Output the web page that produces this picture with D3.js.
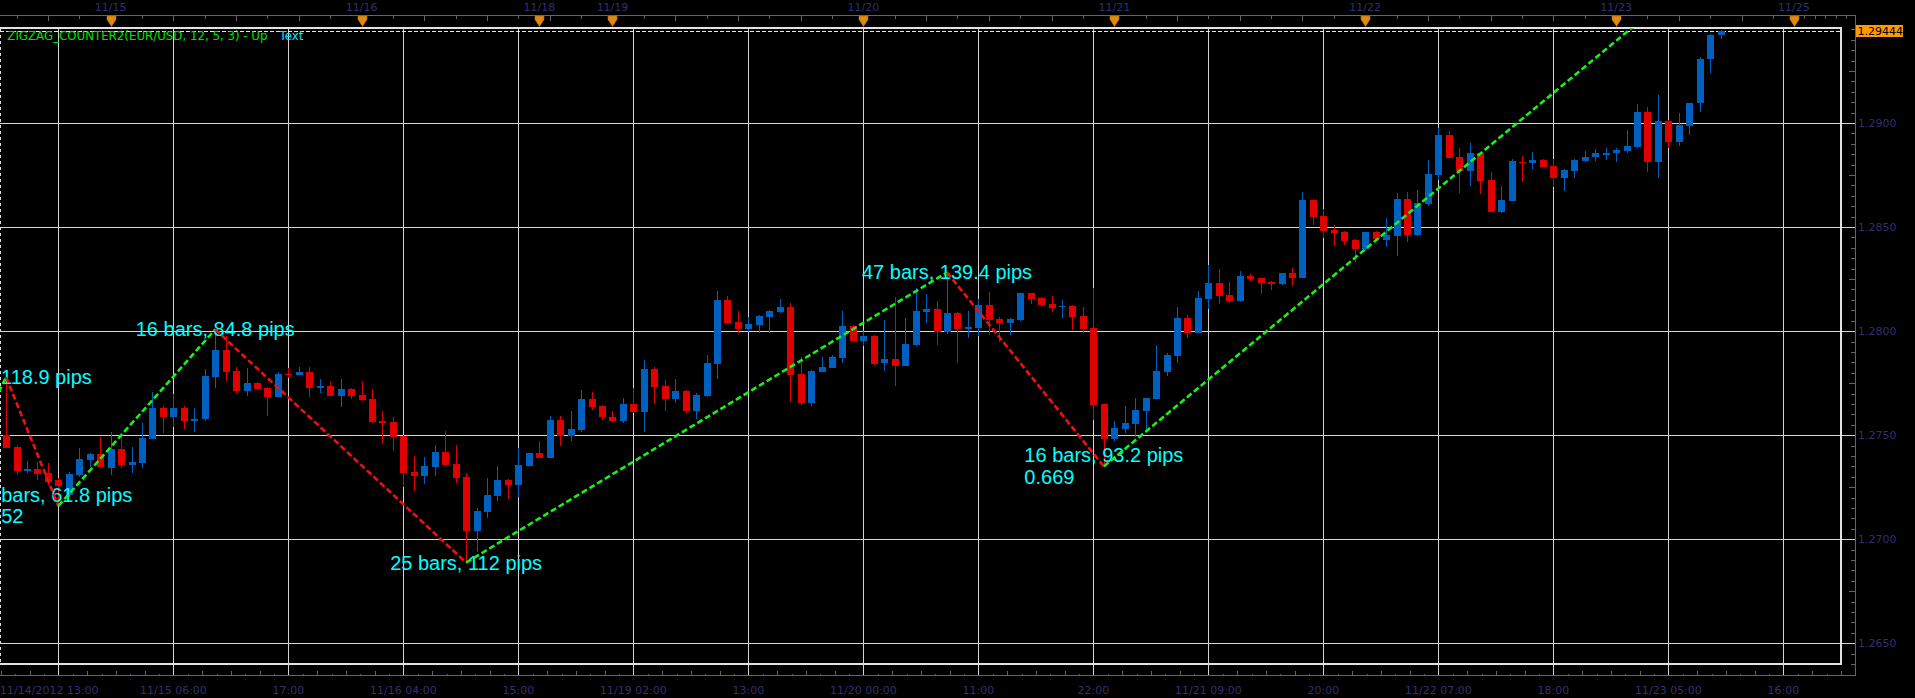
<!DOCTYPE html>
<html><head><meta charset="utf-8">
<script src="https://cdn.jsdelivr.net/npm/d3@7"></script>
<style>html,body{margin:0;padding:0;background:#000;overflow:hidden}</style>
</head><body>
<svg id="chart" width="1915" height="698"></svg>
<script>
// ---------------- DATA ----------------
const firstBar = -5; // bar index of first candle (bar 0 = first vertical gridline)
const open = [1.27501,1.27445,1.27330,1.27338,1.27318,
1.27285,1.27213,1.27310,1.27383,1.27410,1.27344,1.27434,1.27358,1.27368,1.27483,
1.27629,1.27586,1.27629,1.27567,1.27576,1.27781,1.27909,1.27808,1.27714,1.27751,
1.27727,1.27685,1.27794,1.27789,1.27804,1.27730,1.27736,1.27690,1.27722,1.27693,
1.27672,1.27568,1.27562,1.27496,1.27322,1.27306,1.27349,1.27418,1.27362,1.27299,
1.27041,1.27133,1.27210,1.27285,1.27262,1.27354,1.27415,1.27392,1.27573,1.27498,
1.27525,1.27674,1.27640,1.27587,1.27568,1.27650,1.27612,1.27818,1.27736,1.27674,
1.27712,1.27616,1.27690,1.27842,1.28150,1.28042,1.28010,1.28031,1.28070,1.28092,
1.28116,1.27794,1.27656,1.27805,1.27825,1.27873,1.28025,1.27954,1.27977,1.27845,
1.27865,1.27834,1.27933,1.28094,1.28105,1.27994,1.28087,1.28012,1.28014,1.28126,
1.28057,1.28038,1.28054,1.28182,1.28158,1.28130,1.28114,1.28121,1.28073,1.28014,
1.27648,1.27480,1.27531,1.27554,1.27618,1.27674,1.27805,1.27882,1.28062,1.27993,
1.28154,1.28230,1.28174,1.28146,1.28265,1.28254,1.28236,1.28227,1.28278,1.28257,
1.28630,1.28553,1.28486,1.28478,1.28438,1.28395,1.28476,1.28438,1.28457,1.28635,
1.28462,1.28611,1.28750,1.28942,1.28835,1.28771,1.28854,1.28726,1.28574,1.28627,
1.28814,1.28810,1.28822,1.28794,1.28734,1.28771,1.28819,1.28835,1.28851,1.28854,
1.28867,1.28886,1.29051,1.28814,1.29010,1.28910,1.28987,1.29095,1.29306,1.29422];
const high = [1.27778,1.27453,1.27376,1.27370,1.27365,
1.27293,1.27325,1.27437,1.27413,1.27493,1.27517,1.27509,1.27445,1.27557,1.27709,
1.27640,1.27696,1.27640,1.27632,1.27818,1.28008,1.27977,1.27829,1.27821,1.27754,
1.27730,1.27805,1.27821,1.27829,1.27829,1.27772,1.27757,1.27772,1.27725,1.27762,
1.27720,1.27616,1.27586,1.27501,1.27402,1.27397,1.27451,1.27520,1.27453,1.27317,
1.27149,1.27293,1.27352,1.27288,1.27437,1.27416,1.27470,1.27592,1.27592,1.27616,
1.27717,1.27709,1.27645,1.27616,1.27677,1.27725,1.27861,1.27829,1.27765,1.27768,
1.27717,1.27704,1.27885,1.28195,1.28169,1.28097,1.28066,1.28076,1.28102,1.28154,
1.28134,1.27877,1.27812,1.27874,1.27885,1.28097,1.28030,1.28001,1.27982,1.28054,
1.28163,1.28065,1.28206,1.28179,1.28146,1.28282,1.28094,1.28097,1.28153,1.28187,
1.28070,1.28062,1.28185,1.28185,1.28163,1.28171,1.28150,1.28126,1.28114,1.28209,
1.27652,1.27568,1.27640,1.27680,1.27680,1.27933,1.27897,1.28114,1.28078,1.28195,
1.28318,1.28299,1.28235,1.28289,1.28275,1.28257,1.28243,1.28281,1.28302,1.28667,
1.28633,1.28585,1.28510,1.28481,1.28443,1.28478,1.28480,1.28545,1.28662,1.28667,
1.28678,1.28822,1.28978,1.28962,1.28882,1.28906,1.28858,1.28763,1.28697,1.28827,
1.28842,1.28862,1.28826,1.28826,1.28777,1.28826,1.28867,1.28874,1.28878,1.28882,
1.28966,1.29091,1.29075,1.29135,1.29013,1.29047,1.29098,1.29316,1.29426,1.29446];
const low = [1.27437,1.27309,1.27320,1.27285,1.27261,
1.27160,1.27205,1.27301,1.27349,1.27341,1.27309,1.27341,1.27317,1.27344,1.27480,
1.27512,1.27541,1.27528,1.27514,1.27570,1.27725,1.27762,1.27701,1.27688,1.27721,
1.27594,1.27682,1.27773,1.27788,1.27685,1.27704,1.27688,1.27637,1.27672,1.27666,
1.27557,1.27458,1.27426,1.27250,1.27234,1.27267,1.27304,1.27354,1.27272,1.26888,
1.26937,1.27101,1.27185,1.27194,1.27205,1.27352,1.27389,1.27389,1.27448,1.27474,
1.27517,1.27621,1.27573,1.27562,1.27560,1.27608,1.27517,1.27650,1.27616,1.27653,
1.27605,1.27578,1.27685,1.27770,1.28034,1.27990,1.27998,1.27993,1.27993,1.28089,
1.27661,1.27645,1.27642,1.27802,1.27821,1.27845,1.27951,1.27930,1.27837,1.27810,
1.27738,1.27833,1.27930,1.28038,1.27933,1.27986,1.27845,1.27965,1.27977,1.27982,
1.27950,1.27982,1.28050,1.28130,1.28114,1.28094,1.28065,1.28006,1.27993,1.27573,
1.27350,1.27474,1.27509,1.27490,1.27525,1.27672,1.27785,1.27845,1.27965,1.27990,
1.28105,1.28130,1.28137,1.28142,1.28243,1.28178,1.28198,1.28222,1.28217,1.28254,
1.28510,1.28449,1.28411,1.28414,1.28334,1.28390,1.28438,1.28406,1.28363,1.28427,
1.28459,1.28601,1.28726,1.28830,1.28662,1.28697,1.28659,1.28571,1.28566,1.28624,
1.28718,1.28779,1.28787,1.28694,1.28675,1.28737,1.28814,1.28819,1.28822,1.28814,
1.28854,1.28878,1.28766,1.28737,1.28882,1.28891,1.28942,1.29055,1.29239,1.29405];
const close = [1.27440,1.27330,1.27336,1.27315,1.27277,
1.27256,1.27314,1.27386,1.27410,1.27346,1.27434,1.27357,1.27371,1.27487,1.27629,
1.27586,1.27629,1.27567,1.27578,1.27785,1.27909,1.27805,1.27714,1.27751,1.27724,
1.27685,1.27794,1.27788,1.27804,1.27728,1.27736,1.27690,1.27722,1.27690,1.27669,
1.27565,1.27560,1.27493,1.27320,1.27306,1.27352,1.27418,1.27357,1.27296,1.27041,
1.27136,1.27213,1.27285,1.27262,1.27357,1.27413,1.27392,1.27573,1.27498,1.27528,
1.27674,1.27634,1.27586,1.27568,1.27650,1.27612,1.27818,1.27733,1.27674,1.27712,
1.27616,1.27693,1.27845,1.28150,1.28038,1.28010,1.28033,1.28073,1.28097,1.28116,
1.27789,1.27656,1.27809,1.27826,1.27877,1.28025,1.27954,1.27977,1.27842,1.27865,
1.27834,1.27938,1.28097,1.28106,1.27998,1.28087,1.28010,1.28022,1.28126,1.28054,
1.28038,1.28058,1.28182,1.28154,1.28126,1.28113,1.28121,1.28070,1.28010,1.27645,
1.27480,1.27533,1.27557,1.27621,1.27677,1.27809,1.27885,1.28062,1.27993,1.28158,
1.28230,1.28171,1.28146,1.28265,1.28251,1.28230,1.28233,1.28278,1.28257,1.28630,
1.28550,1.28481,1.28473,1.28435,1.28395,1.28476,1.28441,1.28462,1.28635,1.28462,
1.28614,1.28755,1.28942,1.28834,1.28771,1.28854,1.28723,1.28574,1.28630,1.28818,
1.28810,1.28822,1.28790,1.28734,1.28774,1.28822,1.28838,1.28854,1.28854,1.28870,
1.28890,1.29051,1.28814,1.29010,1.28910,1.28989,1.29095,1.29308,1.29423,1.29444];

const zigzagBar   = [-17, -5, 0, 15, 39, 85, 100, 151];
const zigzagPrice = [1.26589, 1.27778, 1.27160, 1.28008, 1.26888, 1.28282, 1.27350, 1.29478];
const labelBar   = [-5, 0, 15, 39, 85, 100];
const labelLine1 = ["13 bars, 118.9 pips", "6 bars, 61.8 pips", "16 bars, 84.8 pips", "25 bars, 112 pips", "47 bars, 139.4 pips", "16 bars, 93.2 pips"];
const labelLine2 = ["", "0.52", "", "", "", "0.669"];

const priceTicks = [1.265, 1.270, 1.275, 1.280, 1.285, 1.290];
const priceLabels = ["1.2650", "1.2700", "1.2750", "1.2800", "1.2850", "1.2900"];
const gridBars = [0, 11, 22, 33, 44, 55, 66, 77, 88, 99, 110, 121, 132, 143, 154, 165];
const timeLabels = ["11/14/2012 13:00", "11/15 06:00", "17:00", "11/16 04:00", "15:00", "11/19 02:00", "13:00", "11/20 00:00", "11:00", "22:00", "11/21 09:00", "20:00", "11/22 07:00", "18:00", "11/23 05:00", "16:00"];
const dayBars = [5, 29, 46, 53, 77, 101, 125, 149, 166];
const dayLabels = ["11/15", "11/16", "11/18", "11/19", "11/20", "11/21", "11/22", "11/23", "11/25"];
const sessionStartBar = [-6, 46];
const sessionStartHour = [13, 17];
const lastPrice = 1.29444;
const legendMain = "ZIGZAG_COUNTER2(EUR/USD, 12, 5, 3) -  Up";
const legendExtra = "Text";

// ---------------- LAYOUT ----------------
const W = 1915, H = 698;
const plotT = 28, plotR = 1841, plotB = 664;
const axTop = 15.5, axBottom = 676, axRight = 1855;
const x = d3.scaleLinear().domain([0, 165]).range([58.4, 1783.4]);
const y = d3.scaleLinear().domain([1.265, 1.29]).range([643.3, 123]);
const RED = "#e00000", BLUE = "#0060c0", AXC = "#646464", TXT = "#30306e", GRID = "#d4d4d4";
const CYAN = "#00ffff";

const svg = d3.select("#chart");
svg.append("rect").attr("width", W).attr("height", H).attr("fill", "#000");

const defs = svg.append("defs");
defs.append("clipPath").attr("id", "plotclip").append("rect")
  .attr("x", 0).attr("y", plotT).attr("width", plotR).attr("height", plotB - plotT);

const cr = v => Math.round(v) + 0.5;

// grid
const grid = svg.append("g").attr("shape-rendering", "crispEdges");
grid.selectAll("line.v").data(gridBars).join("line")
  .attr("x1", d => cr(x(d))).attr("x2", d => cr(x(d)))
  .attr("y1", plotT).attr("y2", axBottom).attr("stroke", GRID).attr("stroke-width", 1);
grid.selectAll("line.h").data(priceTicks).join("line")
  .attr("x1", 0).attr("x2", axRight)
  .attr("y1", d => cr(y(d))).attr("y2", d => cr(y(d))).attr("stroke", GRID).attr("stroke-width", 1);

// frame
const frame = svg.append("g").attr("shape-rendering", "crispEdges").attr("stroke", "#e2e2e2").attr("stroke-width", 2).attr("fill", "none");
frame.append("line").attr("x1", 0).attr("x2", plotR + 1).attr("y1", plotT).attr("y2", plotT);
frame.append("line").attr("x1", plotR).attr("x2", plotR).attr("y1", plotT).attr("y2", plotB);
frame.append("line").attr("x1", 0).attr("x2", plotR + 1).attr("y1", plotB).attr("y2", plotB);
svg.append("line").attr("x1", 0.5).attr("x2", 0.5).attr("y1", plotT + 1).attr("y2", plotB - 1)
  .attr("stroke", "#dddddd").attr("stroke-width", 1).attr("stroke-dasharray", "3,3").attr("shape-rendering", "crispEdges");
// last price dashed line
svg.append("line").attr("x1", 0).attr("x2", plotR - 1).attr("y1", cr(y(lastPrice))).attr("y2", cr(y(lastPrice)))
  .attr("stroke", "#e6e6e6").attr("stroke-width", 1).attr("stroke-dasharray", "4,2").attr("shape-rendering", "crispEdges");

// candles
const candles = open.map((o, k) => ({ i: firstBar + k, o, h: high[k], l: low[k], c: close[k] }));
const cg = svg.append("g").attr("clip-path", "url(#plotclip)").attr("shape-rendering", "crispEdges");
const cgs = cg.selectAll("g").data(candles).join("g");
cgs.append("line")
  .attr("x1", d => cr(x(d.i))).attr("x2", d => cr(x(d.i)))
  .attr("y1", d => y(d.h)).attr("y2", d => y(d.l))
  .attr("stroke", d => d.c >= d.o ? BLUE : RED).attr("stroke-width", 1);
cgs.append("rect")
  .attr("x", d => Math.round(x(d.i)) - 3).attr("width", 7)
  .attr("y", d => y(Math.max(d.o, d.c)))
  .attr("height", d => Math.max(1.5, Math.abs(y(d.o) - y(d.c))))
  .attr("fill", d => d.c >= d.o ? BLUE : RED);

// zigzag labels (the part of a label that falls left of the chart edge is not drawn)
const lg = svg.append("g")
  .attr("font-family", "'Liberation Sans', Arial, sans-serif").attr("font-size", 20).attr("fill", CYAN);
function placeLine(str, left, yy) {
  const t = lg.append("text").attr("y", yy).text(str);
  const node = t.node();
  let n = 0, start = left;
  while (start < -3 && n < str.length - 1) {
    n++;
    start = left + node.getSubStringLength(0, n);
  }
  t.text(str.slice(n)).attr("x", Math.max(start, 1));
  return t;
}
labelBar.forEach((b, k) => {
  const zi = zigzagBar.indexOf(b);
  const p = zigzagPrice[zi];
  const px = x(b), py = y(p);
  const two = labelLine2[k] !== "";
  const probe = lg.append("text").text(labelLine1[k]);
  const w = probe.node().getComputedTextLength();
  probe.remove();
  const left = px - w / 2;
  placeLine(labelLine1[k], left, two ? py - 4 : py + 7);
  if (two) placeLine(labelLine2[k], left, py + 17.5);
});

// zigzag lines
const zz = zigzagBar.map((b, k) => ({ b, p: zigzagPrice[k] }));
const zg = svg.append("g").attr("clip-path", "url(#plotclip)");
zg.selectAll("line").data(zz.slice(1)).join("line")
  .attr("x1", (d, k) => x(zz[k].b)).attr("y1", (d, k) => y(zz[k].p))
  .attr("x2", d => x(d.b)).attr("y2", d => y(d.p))
  .attr("stroke", (d, k) => d.p > zz[k].p ? "#19f019" : "#f01010")
  .attr("stroke-width", 2.6).attr("stroke-dasharray", "6,3").attr("fill", "none");

// legend
svg.append("text").attr("x", 7.3).attr("y", 40).text(legendMain)
  .attr("font-family", "'DejaVu Sans', Verdana, sans-serif").attr("font-size", 11.8).attr("fill", "#00e000");
svg.append("text").attr("x", 279.6).attr("y", 40).text(legendExtra)
  .attr("font-family", "'DejaVu Sans', Verdana, sans-serif").attr("font-size", 11.8).attr("fill", "#00e8ff");

// axes lines
const ax = svg.append("g").attr("shape-rendering", "crispEdges").attr("stroke", AXC).attr("stroke-width", 1);
ax.append("line").attr("x1", 0).attr("x2", axRight + 0.5).attr("y1", axTop).attr("y2", axTop);
ax.append("line").attr("x1", 0).attr("x2", axRight + 0.5).attr("y1", axBottom - 0.5).attr("y2", axBottom - 0.5);
ax.append("line").attr("x1", axRight).attr("x2", axRight).attr("y1", axTop).attr("y2", axBottom);

// top ticks by hour
function hourOf(i) {
  const s = i >= sessionStartBar[1] ? 1 : 0;
  return ((sessionStartHour[s] + (i - sessionStartBar[s])) % 24 + 24) % 24;
}
const topTicks = [];
for (let i = -6; i <= 171; i++) {
  if (dayBars.includes(i)) continue;
  const h = hourOf(i);
  let len = 0;
  if (i > 166) len = 3;
  else if (h % 6 === 0) len = 5.5;
  else if (h % 3 === 0) len = 3;
  if (len && x(i) > 0 && x(i) < axRight) topTicks.push({ i, len });
}
ax.selectAll("line.tt").data(topTicks).join("line")
  .attr("x1", d => cr(x(d.i))).attr("x2", d => cr(x(d.i)))
  .attr("y1", axTop).attr("y2", d => axTop + d.len);

// bottom ticks
const step = (x(11) - x(0)) / 8;
const bt = [];
for (let j = -4; j < 130; j++) {
  const xv = x(0) + j * step;
  if (xv < 0 || xv > axRight - 1) continue;
  if (((j % 8) + 8) % 8 === 0) continue;
  bt.push({ xv, len: (Math.abs(j) % 2 === 0) ? 5 : 2 });
}
ax.selectAll("line.bt").data(bt).join("line")
  .attr("x1", d => cr(d.xv)).attr("x2", d => cr(d.xv))
  .attr("y1", axBottom - 0.5).attr("y2", d => axBottom - 0.5 - d.len);

// right ticks
const rt = [];
for (let k = 0; k <= 62; k++) {
  const p = 1.2640 + k * 0.0005;
  const yy = y(p);
  if (yy < axTop + 2 || yy > axBottom - 2) continue;
  const m = Math.round(p * 10000);
  if (m % 50 === 0) continue;
  rt.push({ yy, len: m % 25 === 0 ? 6 : 4 });
}
ax.selectAll("line.rt").data(rt).join("line")
  .attr("x1", d => axRight - d.len).attr("x2", axRight)
  .attr("y1", d => cr(d.yy)).attr("y2", d => cr(d.yy));

// day triangles
svg.append("g").selectAll("path").data(dayBars).join("path")
  .attr("d", d => { const c = Math.round(x(d)) + 0.5; return `M${c - 4.5},${axTop + 0.5} L${c + 4.5},${axTop + 0.5} L${c + 4.5},${axTop + 4} L${c},${axTop + 11} L${c - 4.5},${axTop + 4} Z`; })
  .attr("fill", "#e08a12").attr("stroke", "#b86a00").attr("stroke-width", 0.6);

// labels
const txt = svg.append("g").attr("font-family", "'DejaVu Sans', Verdana, sans-serif").attr("font-size", 11).attr("fill", TXT);
txt.selectAll("text.day").data(dayBars).join("text")
  .attr("x", d => x(d)).attr("y", 10.5).attr("text-anchor", "middle").text((d, k) => dayLabels[k]);
txt.selectAll("text.time").data(gridBars).join("text")
  .attr("x", (d, k) => k === 0 ? 0 : x(d)).attr("y", 694)
  .attr("text-anchor", (d, k) => k === 0 ? "start" : "middle").text((d, k) => timeLabels[k]);
txt.selectAll("text.price").data(priceTicks).join("text")
  .attr("x", 1858).attr("y", d => y(d) + 4).text((d, k) => priceLabels[k]);

// last price box
const ly = y(lastPrice);
svg.append("rect").attr("x", 1856).attr("y", Math.round(ly) - 6).attr("width", 47).attr("height", 12).attr("fill", "#ff9a00");
svg.append("text").attr("x", 1857.5).attr("y", ly + 4).text(lastPrice.toFixed(5))
  .attr("font-family", "'DejaVu Sans', Verdana, sans-serif").attr("font-size", 11).attr("fill", "#000");
</script>
</body></html>
